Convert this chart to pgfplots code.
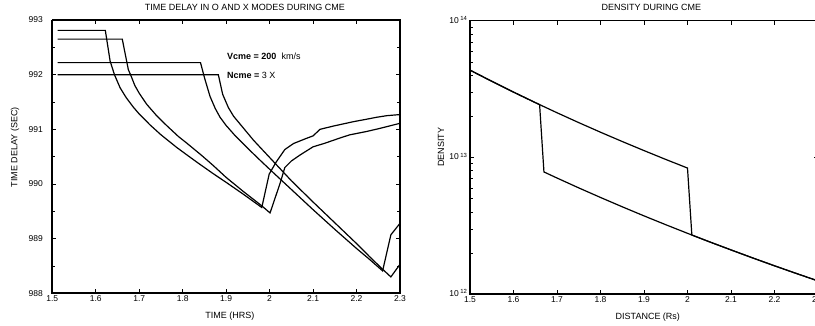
\documentclass[border=0pt]{standalone}
\usepackage{pgfplots}
\pgfplotsset{compat=1.18}
\usepackage{fontspec}
\setmainfont{Liberation Sans}
\begin{document}
\begin{tikzpicture}
\pgfplotsset{
  cmestyle/.style={
    scale only axis,
    anchor=south west,
    axis line style={line width=1.1pt},
    tick align=inside,
    major tick length=4pt,
    minor tick length=2.5pt,
    every tick/.style={black, line width=0.6pt},
    /pgf/number format/assume math mode=true,
    tick label style={font=\fontsize{8.5}{10}\selectfont},
    label style={font=\fontsize{9}{10}\selectfont},
    xtick={1.5,1.6,1.7,1.8,1.9,2.0,2.1,2.2,2.3},
    xticklabels={1.5,1.6,1.7,1.8,1.9,2,2.1,2.2,2.3},
    xticklabel style={yshift=1.5pt},
    xmin=1.5, xmax=2.3,
    clip mode=individual,
  },
}
% ---------------- left: time delay ----------------
\begin{axis}[cmestyle,
  at={(52.3pt,32.7pt)},
  width=347.7pt, height=273.3pt,
  ymin=988, ymax=993,
  ytick={988,989,990,991,992,993},
  minor y tick num=1,
  yticklabel style={xshift=-6pt},
  xlabel={TIME (HRS)},
  xlabel style={at={(axis description cs:0.511,-0.094)}, anchor=base},
  ylabel={TIME DELAY (SEC)},
  ylabel style={at={(axis description cs:-0.1073,0.535)}, anchor=center},
]
\addplot[black, line width=1.2pt] coordinates {
(1.512,992.81)(1.622,992.81)(1.633,992.25)(1.643,992.00)(1.656,991.76)(1.670,991.58)
(1.686,991.41)(1.700,991.28)(1.725,991.08)(1.750,990.90)(1.786,990.67)(1.810,990.53)
(1.836,990.38)(1.870,990.19)(1.900,990.03)(1.940,989.81)(1.982,989.57)(1.999,990.18)
(2.015,990.40)(2.035,990.63)(2.055,990.74)(2.080,990.82)(2.100,990.88)(2.116,991.00)
(2.147,991.06)(2.170,991.10)(2.193,991.14)(2.220,991.18)(2.246,991.22)(2.270,991.25)
(2.300,991.27)};
\addplot[black, line width=1.2pt] coordinates {
(1.512,992.65)(1.661,992.65)(1.675,992.09)(1.681,991.98)(1.690,991.80)(1.700,991.66)
(1.717,991.46)(1.740,991.25)(1.763,991.07)(1.790,990.87)(1.809,990.75)(1.844,990.52)
(1.870,990.34)(1.900,990.12)(1.940,989.86)(1.982,989.60)(2.001,989.47)(2.024,990.01)
(2.035,990.30)(2.050,990.42)(2.070,990.53)(2.100,990.68)(2.125,990.74)(2.147,990.80)
(2.165,990.85)(2.185,990.90)(2.223,990.96)(2.250,991.01)(2.270,991.05)(2.300,991.11)};
\addplot[black, line width=1.2pt] coordinates {
(1.512,992.22)(1.841,992.22)(1.851,991.92)(1.863,991.60)(1.875,991.38)(1.886,991.22)
(1.900,991.07)(1.920,990.89)(1.950,990.65)(1.980,990.42)(2.000,990.27)(2.050,989.90)
(2.100,989.53)(2.150,989.17)(2.200,988.82)(2.230,988.62)(2.260,988.41)(2.279,989.07)
(2.300,989.28)};
\addplot[black, line width=1.2pt] coordinates {
(1.512,992.00)(1.882,992.00)(1.892,991.64)(1.905,991.40)(1.917,991.24)(1.940,991.02)
(1.963,990.80)(1.990,990.57)(2.010,990.40)(2.050,990.06)(2.100,989.67)(2.150,989.29)
(2.200,988.91)(2.230,988.67)(2.260,988.44)(2.279,988.30)(2.300,988.53)};
\node[anchor=west, inner sep=0pt, font=\fontsize{9}{10}\selectfont] at (axis cs:1.902,992.34) {\textbf{Vcme = 200}\ \ km/s};
\node[anchor=west, inner sep=0pt, font=\fontsize{9}{10}\selectfont] at (axis cs:1.902,991.985) {\textbf{Ncme =} 3 X};
\node[anchor=base, inner sep=0pt, font=\fontsize{9}{10}\selectfont] at (rel axis cs:0.554,1.036) {TIME DELAY IN O AND X MODES DURING CME};
\draw[line width=1.9pt] (rel axis cs:0,1) -- (rel axis cs:0,0) -- (rel axis cs:1,0);
\end{axis}
% ---------------- right: density ----------------
\begin{axis}[cmestyle,
  at={(470pt,31.7pt)},
  width=348pt, height=273.6pt,
  ymode=log,
  ymin=1e12, ymax=1e14,
  ytick={1e12,1e13,1e14},
  yticklabels={10\,\textsuperscript{12},10\,\textsuperscript{13},10\,\textsuperscript{14}},
  yticklabel style={xshift=1pt, yshift=1pt},
  xlabel={DISTANCE (Rs)},
  xlabel style={at={(axis description cs:0.511,-0.094)}, anchor=base},
  ylabel={DENSITY},
  ylabel style={at={(axis description cs:-0.0836,0.538)}, anchor=center},
]
\addplot[black, line width=1.2pt] coordinates {
(1.50,4.35e13)(1.55,3.605e13)(1.60,3.005e13)(1.65,2.519e13)(1.66,2.434e13)
(1.67,7.838e12)(1.70,7.077e12)(1.75,5.994e12)(1.80,5.101e12)(1.85,4.360e12)
(1.90,3.742e12)(1.95,3.225e12)(2.00,2.790e12)(2.05,2.421e12)(2.10,2.110e12)
(2.15,1.843e12)(2.20,1.615e12)(2.25,1.420e12)(2.30,1.252e12)};
\addplot[black, line width=1.2pt] coordinates {
(1.50,4.35e13)(1.55,3.605e13)(1.60,3.005e13)(1.65,2.519e13)(1.66,2.434e13)
(1.70,2.123e13)(1.75,1.798e13)(1.80,1.530e13)(1.85,1.308e13)(1.90,1.123e13)
(1.95,9.675e12)(2.00,8.370e12)(2.01,2.710e12)(2.05,2.421e12)(2.10,2.110e12)
(2.15,1.843e12)(2.20,1.615e12)(2.25,1.420e12)(2.30,1.252e12)};
\node[anchor=base, inner sep=0pt, font=\fontsize{9}{10}\selectfont] at (rel axis cs:0.5215,1.038) {DENSITY DURING CME};
\draw[line width=1.9pt] (rel axis cs:0,1) -- (rel axis cs:0,0) -- (rel axis cs:1,0);
\end{axis}
\pgfresetboundingbox
\useasboundingbox (0pt,0pt) rectangle (815pt,326pt);
\end{tikzpicture}
\end{document}
